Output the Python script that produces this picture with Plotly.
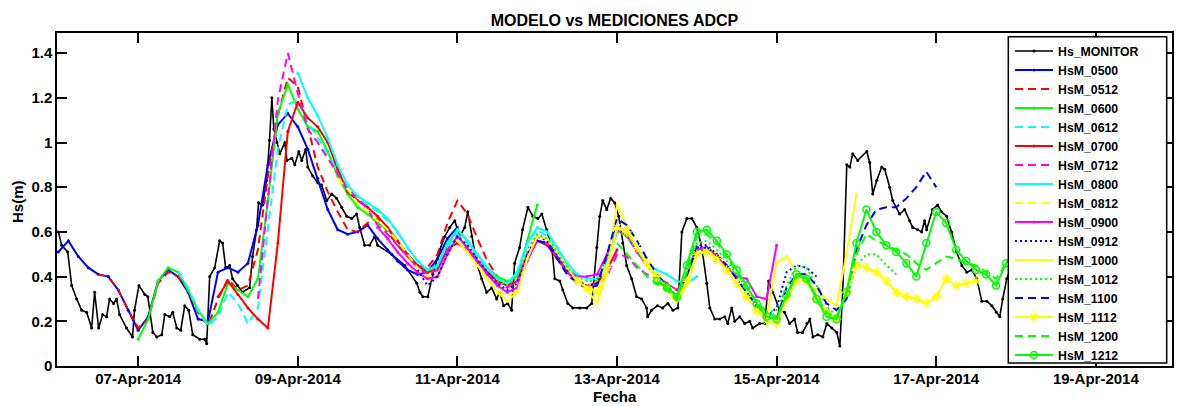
import pandas as pd
import plotly.graph_objects as go

# ---------------- DATA ----------------
BASE = pd.Timestamp("2014-04-06 00:00")
STEP_HOURS = 3  # model output step

# Observations (hours since 2014-04-06 00:00, Hs in m)
monitor_hours = [0.0, 1.0, 2.8, 4.0, 5.5, 7.0, 8.5, 10.0, 10.9, 12.1, 13.3, 14.5, 15.4, 16.6, 17.5, 18.4,
                 20.5, 22.3, 22.9, 24.2, 26.0, 26.9, 28.4, 29.6, 31.1, 32.0, 33.5, 34.4, 35.6, 36.8, 38.0,
                 39.2, 40.4, 42.5, 44.0, 44.6, 45.5, 47.0, 48.5, 49.4, 50.3, 51.5, 52.4, 53.9, 55.4, 57.5,
                 58.4, 59.6, 60.2, 61.4, 62.6, 63.5, 64.2, 64.8, 65.7, 66.6, 68.1, 68.7, 70.2, 71.1, 72.3,
                 73.2, 74.4, 75.0, 76.5, 78.0, 79.2, 80.7, 82.2, 83.7, 85.2, 86.7, 88.2, 89.7, 90.6, 92.1,
                 93.6, 95.1, 96.0, 100.2, 104.2, 107.8, 108.7, 109.6, 111.1, 112.6, 114.7, 116.2, 117.7,
                 119.2, 120.7, 122.2, 123.1, 124.3, 125.8, 127.3, 128.8, 130.3, 131.8, 132.7, 133.9, 135.1,
                 136.3, 137.2, 138.7, 139.6, 141.2, 142.7, 144.2, 145.4, 146.9, 148.4, 149.3, 150.8, 151.7,
                 153.2, 154.7, 156.8, 158.9, 160.4, 161.9, 162.8, 163.7, 164.9, 166.1, 167.3, 168.5, 169.7,
                 170.9, 172.4, 173.9, 175.4, 176.9, 177.2, 178.4, 180.2, 181.7, 183.3, 184.8, 186.3, 187.5,
                 189.0, 190.5, 192.0, 193.5, 195.0, 195.9, 197.4, 198.9, 200.4, 201.3, 202.5, 203.4, 204.9,
                 206.4, 207.9, 208.8, 210.9, 212.4, 213.6, 214.8, 216.9, 218.4, 219.9, 221.4, 222.3, 223.8,
                 225.1, 226.0, 226.9, 228.4, 229.9, 231.1, 232.6, 234.1, 235.0, 235.9, 237.1, 238.0, 238.9,
                 240.4, 243.1, 244.0, 244.9, 246.1, 247.6, 248.5, 250.0, 250.9, 253.0, 254.5, 256.0, 256.9,
                 258.4, 259.6, 260.5, 261.1, 262.9, 264.4, 265.6, 267.1, 268.6, 270.1, 271.7, 273.2, 274.7,
                 276.2, 277.7, 279.2, 280.7, 282.1, 283.1, 284.0, 285.2, 286.7]
monitor_hs = [0.60, 0.54, 0.51, 0.36, 0.30, 0.25, 0.24, 0.17, 0.33, 0.17, 0.23, 0.22, 0.30, 0.28, 0.30, 0.23,
              0.17, 0.13, 0.25, 0.36, 0.32, 0.31, 0.15, 0.13, 0.14, 0.23, 0.22, 0.24, 0.17, 0.16, 0.27,
              0.25, 0.14, 0.12, 0.12, 0.10, 0.40, 0.44, 0.56, 0.55, 0.44, 0.45, 0.39, 0.36, 0.33, 0.35,
              0.49, 0.61, 0.73, 0.72, 0.83, 1.01, 1.20, 1.06, 1.00, 0.95, 1.00, 0.92, 0.93, 0.90, 0.96,
              0.92, 0.97, 0.89, 0.85, 0.82, 0.81, 0.74, 0.77, 0.75, 0.71, 0.67, 0.66, 0.68, 0.62, 0.54,
              0.54, 0.58, 0.54, 0.50, 0.45, 0.37, 0.33, 0.31, 0.31, 0.41, 0.52, 0.58, 0.62,
              0.65, 0.58, 0.62, 0.69, 0.58, 0.46, 0.39, 0.33, 0.35, 0.30, 0.33, 0.27, 0.28,
              0.25, 0.46, 0.53, 0.61, 0.71, 0.67, 0.66, 0.68, 0.61, 0.53, 0.39, 0.38, 0.34,
              0.28, 0.26, 0.26, 0.26, 0.28, 0.53, 0.67, 0.74, 0.70, 0.75, 0.73, 0.67, 0.55,
              0.45, 0.39, 0.31, 0.30, 0.26, 0.22, 0.25, 0.27, 0.26, 0.28, 0.25, 0.26, 0.60,
              0.66, 0.66, 0.62, 0.53, 0.37, 0.26, 0.21, 0.21, 0.22, 0.19, 0.26, 0.20, 0.22,
              0.19, 0.20, 0.17, 0.19, 0.19, 0.38, 0.33, 0.25, 0.24, 0.19, 0.21, 0.15, 0.15,
              0.19, 0.21, 0.13, 0.14, 0.13, 0.19, 0.17, 0.15, 0.09, 0.34, 0.90, 0.89, 0.95,
              0.92, 0.96, 0.91, 0.77, 0.83, 0.89, 0.88, 0.80, 0.74, 0.68, 0.70, 0.65, 0.62,
              0.61, 0.60, 0.65, 0.61, 0.70, 0.72, 0.69, 0.67, 0.60, 0.51, 0.45, 0.42, 0.43,
              0.39, 0.29, 0.29, 0.27, 0.24, 0.22, 0.30, 0.39, 0.45]

# Model forecasts (3-hourly values, first value at day+1 of run, same hour)
hsm_0500 = [0.51, 0.56, 0.49, 0.44, 0.41, 0.40, 0.34, 0.25, 0.16, 0.22,
            0.38, 0.43, 0.40, 0.33, 0.21, 0.20, 0.42, 0.44, 0.42, 0.46,
            0.63, 0.90, 1.08, 1.13, 1.07, 0.97, 0.84, 0.70, 0.61, 0.59,
            0.60, 0.63, 0.57, 0.52, 0.47, 0.43, 0.41, 0.42, 0.48, 0.57, 0.62]
hsm_0512 = [0.41, 0.40, 0.34, 0.25, 0.17, 0.21, 0.37, 0.42, 0.40, 0.34,
            0.24, 0.18, 0.30, 0.39, 0.34, 0.36, 0.52, 0.85, 1.12, 1.29,
            1.25, 1.07, 0.89, 0.78, 0.69, 0.61, 0.60, 0.64, 0.66, 0.60,
            0.54, 0.49, 0.45, 0.44, 0.50, 0.64, 0.74, 0.68, 0.57, 0.47, 0.40]
hsm_0600 = [0.12, 0.21, 0.38, 0.44, 0.42, 0.34, 0.25, 0.19, 0.24, 0.37,
            0.34, 0.31, 0.39, 0.74, 1.13, 1.26, 1.15, 1.07, 1.05, 0.96,
            0.85, 0.77, 0.71, 0.68, 0.64, 0.61, 0.56, 0.50, 0.45, 0.42,
            0.45, 0.54, 0.61, 0.56, 0.50, 0.44, 0.40, 0.38, 0.40, 0.56, 0.72]
hsm_0612 = [0.42, 0.35, 0.25, 0.18, 0.22, 0.33, 0.28, 0.19, 0.26, 0.61,
            0.97, 1.17, 1.19, 1.09, 1.02, 0.95, 0.88, 0.80, 0.75, 0.72,
            0.69, 0.65, 0.60, 0.53, 0.47, 0.43, 0.44, 0.53, 0.59, 0.55,
            0.49, 0.43, 0.38, 0.36, 0.42, 0.55, 0.61, 0.58, 0.52, 0.45, 0.40]
hsm_0700 = [0.31, 0.38, 0.32, 0.26, 0.21, 0.17, 0.55, 1.05, 1.18, 1.11,
            1.07, 1.00, 0.88, 0.78, 0.74, 0.71, 0.67, 0.62, 0.56, 0.50,
            0.45, 0.42, 0.43, 0.52, 0.55, 0.52, 0.47, 0.42, 0.38, 0.36,
            0.38, 0.50, 0.56, 0.54, 0.48, 0.42, 0.38, 0.36, 0.37, 0.43, 0.52]
hsm_0712 = [0.30, 0.75, 1.19, 1.40, 1.22, 1.06, 1.00, 0.93, 0.86, 0.79,
            0.75, 0.70, 0.63, 0.59, 0.54, 0.49, 0.44, 0.41, 0.43, 0.52,
            0.58, 0.53, 0.47, 0.41, 0.37, 0.35, 0.38, 0.50, 0.56, 0.55,
            0.49, 0.42, 0.38, 0.36, 0.36, 0.40, 0.50, 0.49, 0.44, 0.41, 0.39]
hsm_0800 = [1.31, 1.20, 1.12, 1.02, 0.90, 0.81, 0.76, 0.73, 0.70, 0.66,
            0.60, 0.53, 0.47, 0.43, 0.45, 0.55, 0.61, 0.56, 0.50, 0.44,
            0.39, 0.37, 0.42, 0.55, 0.62, 0.60, 0.53, 0.46, 0.41, 0.39,
            0.39, 0.47, 0.60, 0.59, 0.52, 0.46, 0.43, 0.41, 0.38, 0.37, 0.40]
hsm_0812 = [0.84, 0.79, 0.73, 0.69, 0.65, 0.61, 0.56, 0.50, 0.44, 0.40,
            0.41, 0.50, 0.56, 0.51, 0.45, 0.39, 0.34, 0.31, 0.34, 0.48,
            0.58, 0.57, 0.51, 0.44, 0.39, 0.36, 0.33, 0.45, 0.62, 0.60,
            0.53, 0.46, 0.40, 0.36, 0.31, 0.38, 0.52, 0.53, 0.50, 0.45, 0.40]
hsm_0900 = [0.62, 0.57, 0.51, 0.46, 0.42, 0.39, 0.40, 0.50, 0.58, 0.53,
            0.47, 0.41, 0.36, 0.33, 0.35, 0.47, 0.56, 0.55, 0.49, 0.43,
            0.40, 0.40, 0.41, 0.50, 0.61, 0.58, 0.51, 0.45, 0.40, 0.37,
            0.34, 0.39, 0.52, 0.53, 0.49, 0.44, 0.40, 0.39, 0.31, 0.30, 0.54]
hsm_0912 = [0.43, 0.36, 0.40, 0.50, 0.58, 0.54, 0.48, 0.42, 0.37, 0.34,
            0.37, 0.50, 0.58, 0.56, 0.50, 0.43, 0.38, 0.36, 0.37, 0.49,
            0.63, 0.60, 0.53, 0.46, 0.40, 0.36, 0.31, 0.40, 0.54, 0.54,
            0.50, 0.45, 0.39, 0.33, 0.27, 0.22, 0.26, 0.42, 0.45, 0.44, 0.40]
hsm_1000 = [0.56, 0.51, 0.45, 0.39, 0.33, 0.29, 0.33, 0.48, 0.58, 0.57,
            0.51, 0.44, 0.38, 0.34, 0.28, 0.42, 0.72, 0.62, 0.53, 0.45,
            0.39, 0.34, 0.29, 0.36, 0.50, 0.52, 0.48, 0.43, 0.37, 0.31,
            0.25, 0.22, 0.46, 0.49, 0.42, 0.37, 0.34, 0.30, 0.27, 0.50, 0.77]
hsm_1012 = [0.38, 0.36, 0.40, 0.52, 0.59, 0.57, 0.51, 0.44, 0.40, 0.38,
            0.38, 0.48, 0.60, 0.58, 0.52, 0.45, 0.40, 0.36, 0.31, 0.41,
            0.55, 0.56, 0.52, 0.47, 0.41, 0.35, 0.29, 0.24, 0.25, 0.36,
            0.45, 0.44, 0.36, 0.27, 0.22, 0.30, 0.45, 0.50, 0.50, 0.45, 0.41]
hsm_1100 = [0.56, 0.55, 0.48, 0.41, 0.37, 0.35, 0.36, 0.50, 0.66, 0.63,
            0.56, 0.48, 0.41, 0.36, 0.31, 0.40, 0.53, 0.53, 0.50, 0.45,
            0.39, 0.33, 0.27, 0.22, 0.21, 0.35, 0.41, 0.41, 0.36, 0.28,
            0.25, 0.30, 0.52, 0.63, 0.70, 0.71, 0.71, 0.75, 0.80, 0.87, 0.80]
hsm_1112 = [0.38, 0.35, 0.33, 0.44, 0.62, 0.60, 0.53, 0.46, 0.40, 0.35,
            0.30, 0.38, 0.50, 0.51, 0.48, 0.43, 0.37, 0.31, 0.25, 0.20,
            0.19, 0.30, 0.38, 0.38, 0.30, 0.24, 0.21, 0.33, 0.45, 0.44,
            0.42, 0.38, 0.33, 0.31, 0.30, 0.28, 0.31, 0.39, 0.36, 0.37, 0.38]
hsm_1200 = [0.55, 0.50, 0.45, 0.40, 0.37, 0.34, 0.30, 0.42, 0.58, 0.59,
            0.55, 0.49, 0.42, 0.35, 0.29, 0.24, 0.22, 0.31, 0.41, 0.40,
            0.31, 0.24, 0.22, 0.33, 0.50, 0.59, 0.56, 0.54, 0.52, 0.50,
            0.46, 0.43, 0.46, 0.49, 0.48, 0.46, 0.45, 0.42, 0.39, 0.46, 0.52]
hsm_1212 = [0.38, 0.35, 0.31, 0.45, 0.60, 0.61, 0.56, 0.50, 0.43, 0.36,
            0.28, 0.22, 0.21, 0.32, 0.41, 0.39, 0.30, 0.22, 0.21, 0.33,
            0.55, 0.70, 0.60, 0.54, 0.51, 0.46, 0.40, 0.55, 0.69, 0.64,
            0.52, 0.47, 0.43, 0.41, 0.36, 0.46, 0.52, 0.50, 0.48, 0.45, 0.43]

model_names = ["HsM_0500", "HsM_0512", "HsM_0600", "HsM_0612", "HsM_0700", "HsM_0712",
               "HsM_0800", "HsM_0812", "HsM_0900", "HsM_0912", "HsM_1000", "HsM_1012",
               "HsM_1100", "HsM_1112", "HsM_1200", "HsM_1212"]
model_values = [hsm_0500, hsm_0512, hsm_0600, hsm_0612, hsm_0700, hsm_0712,
                hsm_0800, hsm_0812, hsm_0900, hsm_0912, hsm_1000, hsm_1012,
                hsm_1100, hsm_1112, hsm_1200, hsm_1212]

x_tick_dates = ["2014-04-07", "2014-04-09", "2014-04-11", "2014-04-13",
                "2014-04-15", "2014-04-17", "2014-04-19"]
x_tick_labels = ["07-Apr-2014", "09-Apr-2014", "11-Apr-2014", "13-Apr-2014",
                 "15-Apr-2014", "17-Apr-2014", "19-Apr-2014"]
y_tick_vals = [0, 0.2, 0.4, 0.6, 0.8, 1.0, 1.2, 1.4]

# ---------------- STYLES ----------------
BLUE, RED, GREEN, CYAN, MAG, YEL = "#0000FF", "#FF0000", "#00FF00", "#00FFFF", "#FF00FF", "#FFFF00"
DASH = "8px,5px"
DOT = "2px,3px"
styles = {
    "HsM_0500": (BLUE, "solid", "circle"),
    "HsM_0512": (RED, DASH, None),
    "HsM_0600": (GREEN, "solid", "circle"),
    "HsM_0612": (CYAN, DASH, None),
    "HsM_0700": (RED, "solid", "circle"),
    "HsM_0712": (MAG, DASH, None),
    "HsM_0800": (CYAN, "solid", "circle"),
    "HsM_0812": (YEL, DASH, None),
    "HsM_0900": (MAG, "solid", "circle"),
    "HsM_0912": (BLUE, DOT, None),
    "HsM_1000": (YEL, "solid", "circle"),
    "HsM_1012": (GREEN, DOT, None),
    "HsM_1100": (BLUE, DASH, None),
    "HsM_1112": (YEL, "solid", "asterisk-open"),
    "HsM_1200": (GREEN, DASH, None),
    "HsM_1212": (GREEN, "solid", "circle-open"),
}

FONT = "Liberation Sans, Arial, sans-serif"

fig = go.Figure()

mon_t = [BASE + pd.Timedelta(hours=h) for h in monitor_hours]
fig.add_trace(go.Scatter(x=mon_t, y=monitor_hs, name="Hs_MONITOR", mode="lines+markers",
                         line=dict(color="black", width=1.6),
                         marker=dict(symbol="circle", size=3, color="black")))

for name, vals in zip(model_names, model_values):
    day = int(name[4:6]) + 1
    hour = int(name[6:8])
    start = pd.Timestamp(2014, 4, day, hour)
    t = [start + pd.Timedelta(hours=STEP_HOURS * i) for i in range(len(vals))]
    color, dash, sym = styles[name]
    if sym is None:
        fig.add_trace(go.Scatter(x=t, y=vals, name=name, mode="lines",
                                 line=dict(color=color, width=2, dash=dash)))
    else:
        if sym == "circle":
            mk = dict(symbol="circle", size=3, color=color)
        elif sym == "circle-open":
            mk = dict(symbol="circle-open", size=7, color=color, line=dict(width=1.5, color=color))
        else:
            mk = dict(symbol=sym, size=8, color=color, line=dict(width=1.2, color=color))
        fig.add_trace(go.Scatter(x=t, y=vals, name=name, mode="lines+markers",
                                 line=dict(color=color, width=2, dash=dash), marker=mk))

# ---------------- LAYOUT ----------------
# the page body adds an 8 px offset; positions below are given in window pixels
OFF = 8
W, H = 1186 - OFF, 406 - OFF
AX_L, AX_R, AX_T, AX_B = 57, 1172, 33, 366          # axes box in window pixels
ML, MT = AX_L - OFF, AX_T - OFF
MR, MB = W + OFF - AX_R, H + OFF - AX_B
PW, PH = W - ML - MR, H - MT - MB


def px_x(p):
    return (p - AX_L) / PW


def px_y(p):
    return (AX_B - p) / PH


axis_common = dict(showline=True, linecolor="black", linewidth=1.5, mirror="ticks",
                   ticks="inside", ticklen=10, tickwidth=1.5, tickcolor="black",
                   showgrid=False, zeroline=False, automargin=False,
                   tickfont=dict(family=FONT, size=15, color="black", weight="bold"))

fig.update_layout(
    width=W, height=H,
    margin=dict(l=ML, r=MR, t=MT, b=MB, pad=0, autoexpand=False),
    paper_bgcolor="white", plot_bgcolor="white",
    title=dict(text="MODELO vs MEDICIONES ADCP", x=0.5, xref="paper", xanchor="center",
               y=1 - (20 - OFF) / H, yref="container", yanchor="middle",
               font=dict(family=FONT, size=16, color="black", weight="bold")),
    xaxis=dict(range=["2014-04-05 23:35", "2014-04-19 22:54"],
               tickvals=x_tick_dates, ticktext=x_tick_labels, ticklabelstandoff=-2, **axis_common),
    yaxis=dict(range=[0, 1.49], tickvals=y_tick_vals, ticklabelstandoff=0, **axis_common),
    showlegend=True,
    legend=dict(x=px_x(1010), y=px_y(36.5), xanchor="left", yanchor="top",
                bgcolor="rgba(0,0,0,0)", borderwidth=0, itemwidth=38,
                font=dict(family=FONT, size=12.3, color="black", weight="bold"),
                tracegroupgap=0),
    shapes=[dict(type="rect", xref="paper", yref="paper",
                 x0=px_x(1008.3), x1=px_x(1166.7), y0=px_y(363), y1=px_y(36.7),
                 line=dict(color="black", width=1.5), fillcolor="white", layer="above")],
    annotations=[
        dict(text="Fecha", xref="paper", yref="paper", x=0.5, y=px_y(396), showarrow=False,
             xanchor="center", yanchor="middle",
             font=dict(family=FONT, size=15, color="black", weight="bold")),
        dict(text="Hs(m)", xref="paper", yref="paper", x=px_x(17), y=px_y(202), showarrow=False,
             xanchor="center", yanchor="middle", textangle=-90,
             font=dict(family=FONT, size=15, color="black", weight="bold")),
    ],
)

fig.write_html("out.html")
